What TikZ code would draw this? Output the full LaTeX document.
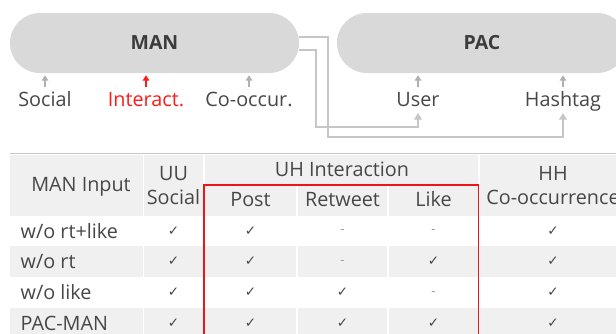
\documentclass[tikz,border=0pt]{standalone}
\usepackage{fontspec}
\setmainfont{Open Sans}
\newfontfamily\symf{DejaVu Sans}
\usetikzlibrary{arrows.meta}
\definecolor{boxgray}{HTML}{D9D9D9}
\definecolor{txt}{HTML}{474747}
\definecolor{boldtxt}{HTML}{3C3C3C}
\definecolor{linegray}{HTML}{C6C6C6}
\definecolor{arrgray}{HTML}{B0B0B0}
\definecolor{cellgray}{HTML}{F0F0F0}
\definecolor{redbox}{HTML}{F01515}
\definecolor{redtxt}{HTML}{FF1A1A}
\definecolor{dashgray}{HTML}{9A9A9A}
\begin{document}
\begin{tikzpicture}[x=1pt,y=-1pt,
  pill/.style={fill=boxgray, rounded corners=29.9pt, minimum height=60pt, inner sep=0pt,
    font=\fontsize{19.5}{22}\selectfont\bfseries, text=boldtxt},
  lbl/.style={anchor=base, font=\fontsize{19.8}{22}\selectfont, text=txt, inner sep=0pt},
  smallarrow/.style={draw=arrgray, line width=1.6pt, shorten >=2pt, -{Triangle[width=6.5pt,length=5.5pt]}},
  conn/.style={draw=linegray, line width=2pt, -{Triangle[width=7.5pt,length=6.5pt]}},
  cell/.style={anchor=base, font=\fontsize{19.8}{22}\selectfont, text=txt, inner sep=0pt},
  chk/.style={font=\symf\fontsize{13.5}{14}\selectfont, text=black!72, inner sep=0pt},
  dsh/.style={font=\fontsize{13}{13}\selectfont, text=dashgray, inner sep=0pt},
  sep/.style={draw=white, line width=1.6pt},
]
\clip (0,0) rectangle (616,333);
\fill[white] (0,0) rectangle (616,333);

% ---- top boxes
\node[pill, minimum width=289pt] (man) at (154.5,43) {MAN};
\node[pill, minimum width=290pt] (pac) at (482,43) {PAC};

% ---- labels
\node[lbl] (social) at (45,106) {Social};
\node[lbl, text=redtxt] (interact) at (146,106) {Interact.};
\node[lbl] (cooccur) at (249,106) {Co-occur.};
\node[lbl] (user) at (418,106) {User};
\node[lbl] (hashtag) at (563,106) {Hashtag};

\draw[smallarrow] ([yshift=19pt]social.base) -- (social.base |- man.south);
\draw[smallarrow, draw=redtxt] ([yshift=19pt]interact.base) -- (interact.base |- man.south);
\draw[smallarrow] ([yshift=19pt]cooccur.base) -- (cooccur.base |- man.south);
\draw[smallarrow] ([yshift=19pt]user.base) -- (user.base |- pac.south);
\draw[smallarrow] ([yshift=19pt]hashtag.base) -- (hashtag.base |- pac.south);

% ---- connectors MAN -> User / Hashtag
\draw[conn] ([yshift=6pt]man.east) -| (327.7,136.5) -| ([yshift=-7pt]hashtag.base);
\draw[conn] ([yshift=-7pt]man.east) -| (315.7,126.7) -| ([yshift=-7pt]user.base);

% ---- table backgrounds
\draw[linegray, line width=1.6pt] (10,153.5) -- (616,153.5);
\fill[cellgray] (10,155) rectangle (630,215.7);
\fill[cellgray] (10,246.4) rectangle (630,277);
\fill[cellgray] (10,307.7) rectangle (630,340);
\draw[sep] (143.3,155) -- (143.3,340);
\draw[sep] (204,155) -- (204,340);
\draw[sep] (479,155) -- (479,340);
\draw[sep] (297,185) -- (297,340);
\draw[sep] (388,185) -- (388,340);
\draw[sep] (204,185) -- (479,185);

% ---- header texts
\node[cell] (hin) at (81,191.7) {MAN Input};
\node[cell] (huu) at (173.5,180) {UU};
\node[cell] (hsoc) at (173.5,204) {Social};
\node[cell] (huh) at (342,176.7) {UH Interaction};
\node[cell] (hpost) at (250.5,206.7) {Post};
\node[cell] (hrt) at (342.5,206.7) {Retweet};
\node[cell] (hlike) at (433.5,206.7) {Like};
\node[cell] (hhh) at (553,180) {HH};
\node[cell] (hco) at (553,204) {Co-occurrence};

% ---- row names
\node[cell, anchor=base west] (r1) at (20.5,238) {w/o rt+like};
\node[cell, anchor=base west] (r2) at (20.5,268.7) {w/o rt};
\node[cell, anchor=base west] (r3) at (20.5,299.4) {w/o like};
\node[cell, anchor=base west] (r4) at (20.5,330) {PAC-MAN};

% ---- marks
\foreach \r/\y/\a/\b/\c/\d/\e in {1/231/1/1/0/0/1, 2/261.7/1/1/0/1/1, 3/292.4/1/1/1/0/1, 4/323/1/1/1/1/1}{
  \foreach \x/\v [count=\k] in {173.5/\a, 250.5/\b, 342.5/\c, 433.5/\d, 553/\e}{
    \ifnum\v=1
      \node[chk] (m-\r-\k) at (\x,\y) {✓};
    \else
      \node[dsh] (m-\r-\k) at (\x,\y+1) {-};
    \fi
  }
}

% ---- red highlight box
\draw[redbox, line width=1.8pt] (204,340) -- (204,185) -- (478.5,185) -- (478.5,340);
\end{tikzpicture}
\end{document}
